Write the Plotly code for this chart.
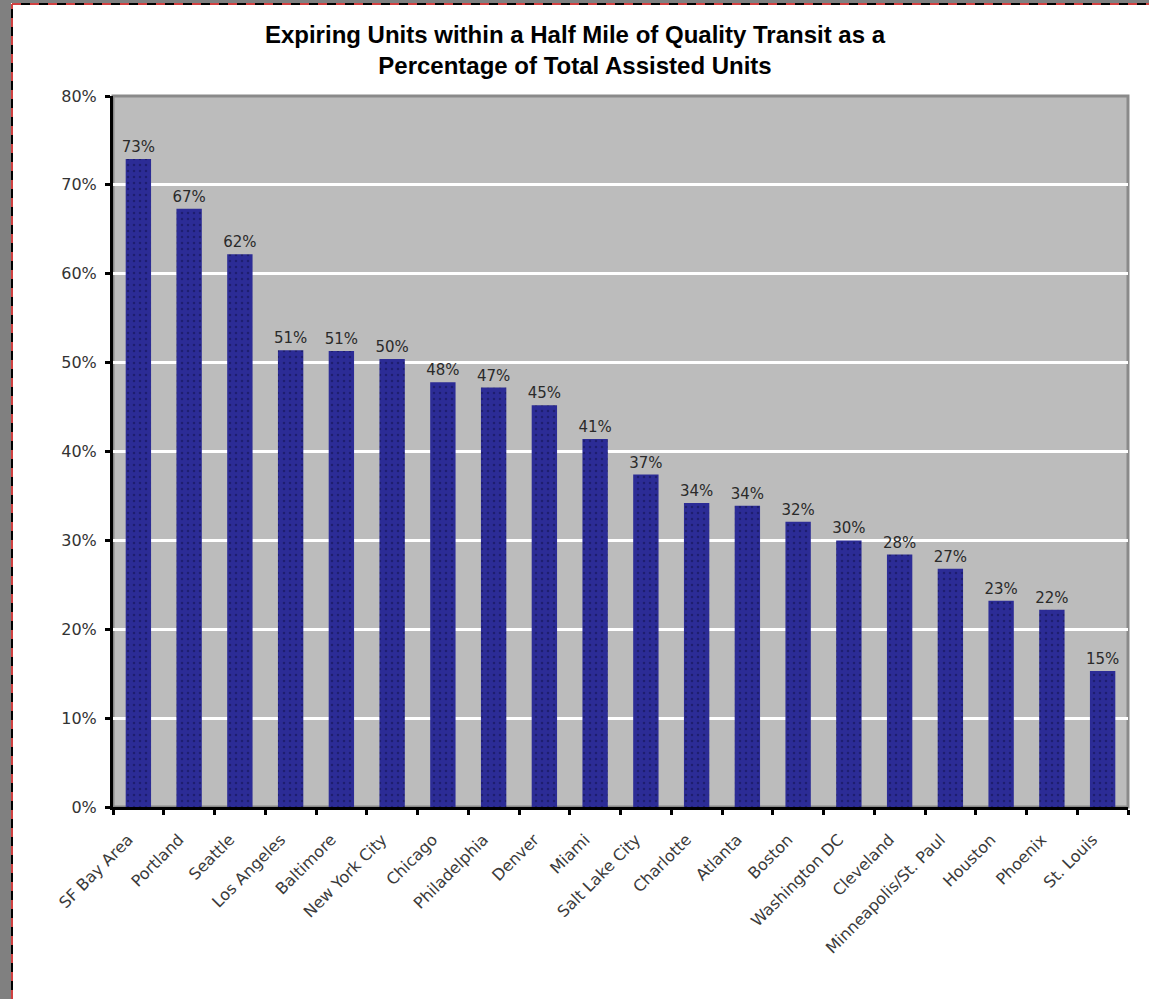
import plotly.graph_objects as go

cities = ["SF Bay Area", "Portland", "Seattle", "Los Angeles", "Baltimore", "New York City",
          "Chicago", "Philadelphia", "Denver", "Miami", "Salt Lake City", "Charlotte",
          "Atlanta", "Boston", "Washington DC", "Cleveland", "Minneapolis/St. Paul",
          "Houston", "Phoenix", "St. Louis"]
shares = [72.9, 67.3, 62.2, 51.4, 51.3, 50.4, 47.8, 47.2, 45.2, 41.4, 37.4, 34.2,
          33.9, 32.1, 30.0, 28.4, 26.8, 23.2, 22.2, 15.3]
y_ticks = [0, 10, 20, 30, 40, 50, 60, 70, 80]
y_tick_text = [f"{v}%" for v in y_ticks]

W, H = 1149, 999
L, R, T, B = 113, 21, 96, 192
pw, ph = W - L - R, H - T - B

def px(x):
    return (x - L) / pw

def py(y):
    return (H - B - y) / ph

LABEL_FONT = "DejaVu Sans, Liberation Sans, Arial"

fig = go.Figure(go.Bar(
    x=cities, y=shares,
    marker=dict(color="#2c2c96", line=dict(width=0),
                pattern=dict(shape=".", fgcolor="#10104a", size=6, solidity=0.15)),
    text=[f"{v:.0f}%" for v in shares], textposition="outside",
    constraintext="none",
    textfont=dict(family=LABEL_FONT, size=15, color="#2a2a2a"),
    cliponaxis=False,
))

shapes = [
    # white page inside the gray window frame
    dict(type="rect", xref="paper", yref="paper", x0=px(11), x1=px(1160), y0=py(1010), y1=py(3),
         fillcolor="white", line=dict(width=0), layer="below"),
    # plot area background with gray top/right frame
    dict(type="rect", xref="paper", yref="paper", x0=0, x1=1, y0=0, y1=1,
         fillcolor="#bcbcbc", line=dict(color="#8a8a8a", width=3), layer="below"),
    # dashed frame lines
    dict(type="line", xref="paper", yref="paper", x0=px(12), x1=px(12), y0=py(999), y1=py(4),
         line=dict(color="#000000", width=2)),
    dict(type="line", xref="paper", yref="paper", x0=px(12), x1=px(1149), y0=py(4), y1=py(4),
         line=dict(color="#000000", width=2)),
    dict(type="line", xref="paper", yref="paper", x0=px(12), x1=px(12), y0=py(999), y1=py(4),
         line=dict(color="#d04040", width=2, dash="dash")),
    dict(type="line", xref="paper", yref="paper", x0=px(12), x1=px(1149), y0=py(4), y1=py(4),
         line=dict(color="#d04040", width=2, dash="dash")),
]

fig.update_layout(
    width=W, height=H,
    margin=dict(l=L, r=R, t=T, b=B, autoexpand=False),
    paper_bgcolor="#808080",
    plot_bgcolor="#bcbcbc",
    bargap=0.5,
    showlegend=False,
    shapes=shapes,
    font=dict(family=LABEL_FONT, size=15, color="#333333"),
    title=dict(
        text="<b>Expiring Units within a Half Mile of Quality Transit as a<br>Percentage of Total Assisted Units</b>",
        x=px(575), xanchor="center", xref="paper",
        y=1 - 43 / H, yanchor="middle",
        font=dict(family="Liberation Sans, Arial", size=24, color="#000000"),
    ),
)

fig.update_yaxes(
    range=[0, 80], tickvals=y_ticks, ticktext=y_tick_text,
    showgrid=True, gridcolor="white", gridwidth=3,
    zeroline=False, layer="above traces",
    showline=True, linecolor="black", linewidth=3,
    ticks="outside", ticklen=5, tickwidth=3, tickcolor="black",
    ticklabelstandoff=5,
    tickfont=dict(family=LABEL_FONT, size=16, color="#333333"),
)
fig.update_xaxes(
    tickangle=-45, showgrid=False, automargin=False,
    showline=True, linecolor="black", linewidth=3,
    ticks="outside", tickson="boundaries", ticklen=5, tickwidth=3, tickcolor="black",
    ticklabelstandoff=14, ticklabelshift=-10,
    tickfont=dict(family=LABEL_FONT, size=16, color="#3a3a3a"),
)

fig.write_html("out.html")
